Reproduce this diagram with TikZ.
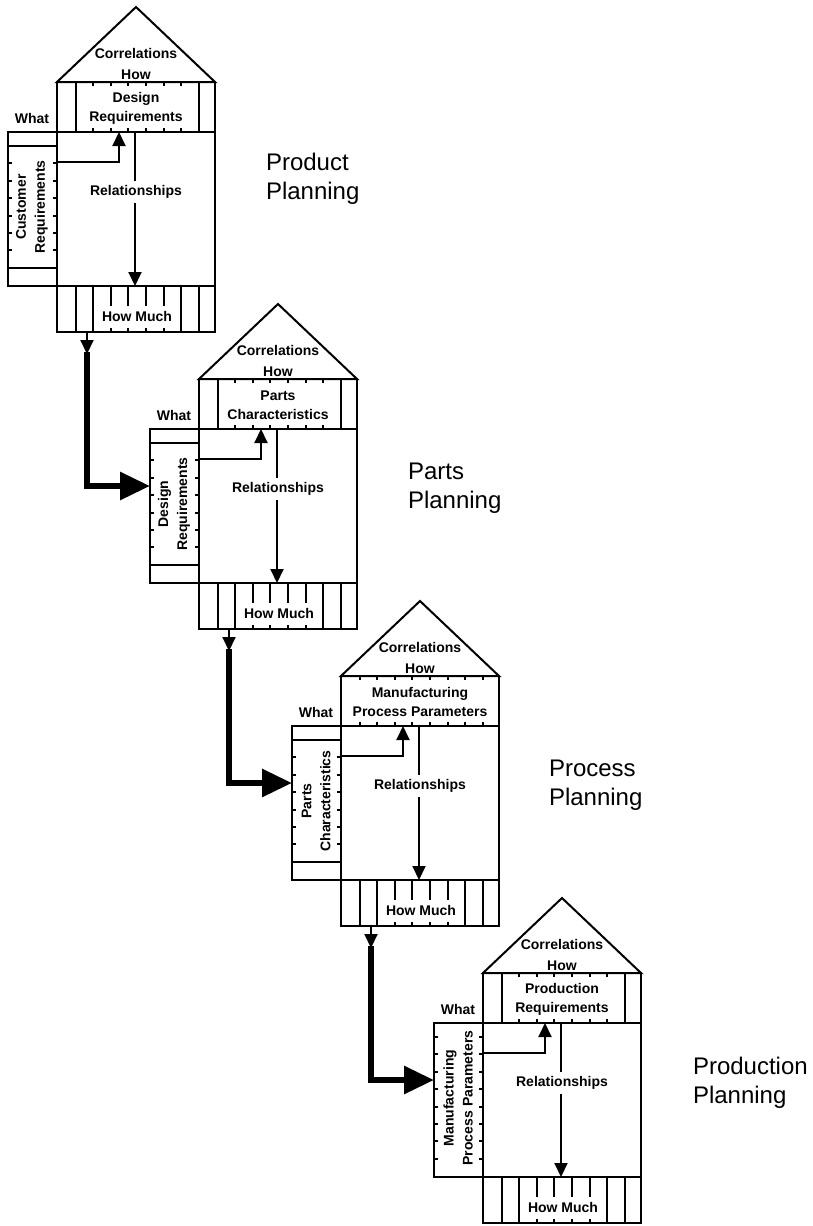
\documentclass[tikz,border=0pt]{standalone}
\usepackage{fontspec}
\setmainfont{Liberation Sans}
\usepackage{tikz}
\usetikzlibrary{arrows.meta}

\begin{document}
\begin{tikzpicture}[x=0.5pt, y=-0.5pt, line width=1pt,
  lbl/.style={font=\fontsize{7}{9.5}\selectfont\bfseries, inner sep=0pt, align=center},
  plan/.style={font=\fontsize{12}{14.5}\selectfont, anchor=north west, inner sep=0pt, align=left},
  tip/.style={-{Triangle[length=7pt, width=6.5pt]}},
  flow/.style={line width=3pt, -{Triangle[length=15pt, width=13.5pt]}}]
  \useasboundingbox (0,0) rectangle (813,1226);
  \foreach \i/\hx/\hy/\whattxt/\howtxt/\howbox/\whatbox in {
      1/57/82/{Customer\\Requirements}/{Design\\Requirements}/1/1,
      2/199/379/{Design\\Requirements}/{Parts\\Characteristics}/1/1,
      3/341/676/{Parts\\Characteristics}/{Manufacturing\\Process Parameters}/0/1,
      4/483/973/{Manufacturing\\Process Parameters}/{Production\\Requirements}/1/0} {
    \begin{scope}[shift={(\hx,\hy)}]
      \draw (0,0) -- (79,-75) -- (158,0) -- cycle;
      \draw (0,0) rectangle (158,50);
      \draw (-49,50) rectangle (0,204);
      \draw (0,50) rectangle (158,204);
      \draw (0,204) rectangle (158,250);
      \ifnum\howbox=1 \draw (18.5,0) -- (18.5,50) (141.7,0) -- (141.7,50); \fi
      \ifnum\whatbox=1 \draw (-49,64) -- (0,64) (-49,186) -- (0,186); \fi
      \foreach \k in {0,...,7} {
        \draw ({18.5+17.6*\k},0) -- ++(0,4) ({18.5+17.6*\k},50) -- ++(0,-4);
        \draw (-49,{64+17.4*\k}) -- ++(4,0) (0,{64+17.4*\k}) -- ++(-4,0);
      }
      \foreach \k in {0,1,6,7}
        \draw ({18.5+17.6*\k},204) -- ++(0,46);
      \foreach \k in {2,...,5}
        \draw ({18.5+17.6*\k},204) -- ++(0,20) ({18.5+17.6*\k},250) -- ++(0,-4);
      \node[lbl] (corr\i) at (79,-29) {Correlations};
      \node[lbl] (how\i) at (79,-7) {How};
      \node[lbl] (hreq\i) at (79,26) {\howtxt};
      \node[lbl] (what\i) at (-25,36) {What};
      \node[lbl, rotate=90] (wreq\i) at (-25,125) {\whattxt};
      \coordinate (a\i) at (0,80);
      \coordinate (b\i) at (62,50);
      \coordinate (c\i) at (78,50);
      \coordinate (d\i) at (78,204);
      \draw[tip] (a\i) -| (b\i);
      \draw[tip] (c\i) -- (d\i);
      \node[lbl, fill=white, inner sep=2pt] (rel\i) at (79,110) {Relationships};
      \node[lbl] (much\i) at (80,234) {How Much};
      \coordinate (out\i) at (30,250);
      \coordinate (in\i) at (-49,107);
    \end{scope}
  }
  \foreach \i/\j in {1/2,2/3,3/4} {
    \draw[tip] (out\i) -- ++(0,22) coordinate (turn\i);
    \draw[flow] ([yshift=1pt]turn\i) |- (in\j);
  }
  \node[plan] (plan1) at (265,152) {Product\\Planning};
  \node[plan] (plan2) at (407,462) {Parts\\Planning};
  \node[plan] (plan3) at (548,759) {Process\\Planning};
  \node[plan] (plan4) at (692,1056) {Production\\Planning};
\end{tikzpicture}
\end{document}
